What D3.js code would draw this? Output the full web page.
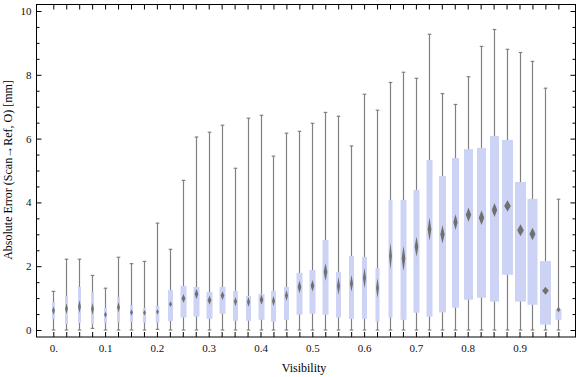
<!DOCTYPE html>
<html>
<head>
<meta charset="utf-8">
<script src="https://cdnjs.cloudflare.com/ajax/libs/d3/7.8.5/d3.min.js"></script>
<style>
  body { margin: 0; background: #fff; }
  text { font-family: "Liberation Serif", "Times New Roman", serif; }
</style>
</head>
<body>
<div id="graph-container"></div>
<script>
const w = 576;
const h = 377;

//Visibility bins, one box per bin
const visibility = [
  0, 0.025, 0.05, 0.075, 0.1, 0.125, 0.15, 0.175, 0.2, 0.225,
  0.25, 0.275, 0.3, 0.325, 0.35, 0.375, 0.4, 0.425, 0.45, 0.475,
  0.5, 0.525, 0.55, 0.575, 0.6, 0.625, 0.65, 0.675, 0.7, 0.725,
  0.75, 0.775, 0.8, 0.825, 0.85, 0.875, 0.9, 0.925, 0.95, 0.975
];

//Box statistics of the absolute error [mm] per bin
const whiskerMin = [
  0, 0, 0, 0.05, 0, 0, 0, 0, 0.02, 0,
  0, 0, 0, 0, 0, 0, 0, 0, 0, 0,
  0, 0, 0, 0, 0, 0, 0, 0, 0, 0,
  0, 0, 0, 0, 0, 0, 0, 0, 0, 0
];
const quartile1 = [
  0.34, 0.19, 0.22, 0.18, 0.21, 0.25, 0.25, 0.23, 0.23, 0.28,
  0.39, 0.42, 0.35, 0.51, 0.29, 0.29, 0.32, 0.26, 0.32, 0.48,
  0.51, 0.48, 0.39, 0.35, 0.35, 0.26, 0.39, 0.32, 0.54, 0.42,
  0.55, 0.7, 0.95, 1.01, 0.89, 1.73, 0.89, 0.79, 0.17, 0.32
];
const median = [
  0.61, 0.67, 0.73, 0.66, 0.48, 0.71, 0.55, 0.54, 0.57, 0.81,
  0.99, 1.13, 0.93, 1.08, 0.89, 0.88, 0.95, 0.91, 1.08, 1.35,
  1.39, 1.82, 1.38, 1.46, 1.63, 1.32, 2.32, 2.24, 2.61, 3.16,
  3.0, 3.38, 3.61, 3.52, 3.76, 3.89, 3.13, 3.01, 1.23, 0.64
];
const quartile3 = [
  0.88, 1.07, 1.35, 1.18, 0.69, 1.03, 0.78, 0.69, 0.75, 1.25,
  1.38, 1.35, 1.19, 1.35, 1.22, 1.07, 1.13, 1.22, 1.35, 1.79,
  1.88, 2.82, 1.82, 2.32, 2.29, 1.94, 4.08, 4.08, 4.39, 5.33,
  4.83, 5.39, 5.67, 5.71, 6.08, 5.96, 4.64, 4.11, 2.16, 0.66
];
const whiskerMax = [
  1.21, 2.22, 2.22, 1.71, 1.31, 2.28, 2.08, 2.15, 3.35, 2.53,
  4.69, 6.05, 6.2, 6.42, 5.07, 6.64, 6.73, 5.45, 6.17, 6.23,
  6.48, 6.82, 6.7, 5.77, 7.39, 6.89, 7.76, 8.08, 7.89, 9.27,
  7.41, 7.07, 7.94, 8.89, 9.42, 8.8, 8.7, 8.42, 7.58, 4.1
];
//Half-height of the median confidence notch [mm]
const medianNotch = [
  0.13, 0.168, 0.199, 0.183, 0.089, 0.157, 0.099, 0.089, 0.083, 0.089,
  0.136, 0.157, 0.141, 0.136, 0.146, 0.152, 0.162, 0.157, 0.167, 0.199,
  0.18, 0.282, 0.277, 0.261, 0.324, 0.313, 0.418, 0.392, 0.313, 0.366,
  0.287, 0.245, 0.219, 0.225, 0.219, 0.178, 0.188, 0.199, 0.125, 0.089
];
//Number of samples per bin (sets box width)
const sampleCount = [
  42, 68, 80, 74, 72, 61, 71, 120, 150, 280,
  400, 400, 400, 400, 278, 278, 400, 278, 278, 400,
  400, 400, 278, 278, 278, 178, 178, 400, 400, 400,
  544, 544, 900, 900, 900, 1344, 1344, 1111, 1344, 400
];

const xLabels = { 0: "0.", 0.1: "0.1", 0.2: "0.2", 0.3: "0.3", 0.4: "0.4", 0.5: "0.5", 0.6: "0.6", 0.7: "0.7", 0.8: "0.8", 0.9: "0.9" };
const yMajor = [0, 2, 4, 6, 8, 10];
const yMinor = [0.5, 1, 1.5, 2.5, 3, 3.5, 4.5, 5, 5.5, 6.5, 7, 7.5, 8.5, 9, 9.5];

const data = visibility.map((v, i) => ({
  v,
  lo: whiskerMin[i],
  q1: quartile1[i],
  med: median[i],
  q3: quartile3[i],
  hi: whiskerMax[i],
  notch: medianNotch[i],
  n: sampleCount[i]
}));

const frame = { left: 36.5, right: 575.5, top: 4.5, bottom: 337 };

const xScale = d3.scaleLinear().domain([0, 1]).range([53.3, 571.3]);
const yScale = d3.scaleLinear().domain([0, 10]).range([330, 11]);
const widthScale = d3.scaleSqrt().domain([0, 1344]).range([0, 11]);
const boxWidth = (d) => Math.max(3, widthScale(d.n));

const svg = d3.select("#graph-container").append("svg").attr("width", w).attr("height", h);

//Whiskers
const boxes = svg.append("g").selectAll("g").data(data).enter().append("g")
  .attr("transform", (d) => `translate(${Math.round(xScale(d.v)) + 0.5},0)`);

boxes.append("line")
  .attr("y1", (d) => yScale(d.lo))
  .attr("y2", (d) => yScale(d.hi))
  .attr("stroke", "#808080")
  .attr("stroke-width", 1.2);

boxes.selectAll(".cap")
  .data((d) => [d.lo, d.hi])
  .enter()
  .append("line")
  .attr("class", "cap")
  .attr("x1", -1.8)
  .attr("x2", 1.8)
  .attr("y1", (v) => yScale(v))
  .attr("y2", (v) => yScale(v))
  .attr("stroke", "#808080")
  .attr("stroke-width", 1.2);

//Interquartile boxes
boxes.append("rect")
  .attr("x", (d) => -boxWidth(d) / 2)
  .attr("width", boxWidth)
  .attr("y", (d) => yScale(d.q3))
  .attr("height", (d) => yScale(d.q1) - yScale(d.q3))
  .attr("fill", "#ccd3f5");

//Median notch diamonds
const defs = svg.append("defs");
defs.append("filter").attr("id", "soft")
  .append("feGaussianBlur").attr("stdDeviation", 0.35);

boxes.append("path")
  .attr("d", (d) => {
    const top = yScale(d.med + d.notch);
    const bot = yScale(d.med - d.notch);
    const mid = yScale(d.med);
    const half = Math.max(1.4, boxWidth(d) * 0.3);
    return `M0,${top}L${half},${mid}L0,${bot}L${-half},${mid}Z`;
  })
  .attr("fill", "#6f6f6f")
  .attr("filter", "url(#soft)");

//Frame and axes
svg.append("rect")
  .attr("x", frame.left)
  .attr("y", frame.top)
  .attr("width", frame.right - frame.left)
  .attr("height", frame.bottom - frame.top)
  .attr("fill", "none")
  .attr("stroke", "#000")
  .attr("stroke-width", 1);

svg.append("g")
  .attr("transform", `translate(0, ${frame.bottom})`)
  .call(d3.axisBottom(xScale).tickValues(visibility).tickSizeInner(-5).tickSizeOuter(0).tickPadding(7)
    .tickFormat((v) => xLabels[v] || ""));

svg.append("g")
  .attr("transform", `translate(0, ${frame.top})`)
  .call(d3.axisTop(xScale).tickValues(visibility).tickSizeInner(-5).tickSizeOuter(0).tickFormat(""));

svg.append("g")
  .attr("transform", `translate(${frame.left}, 0)`)
  .call(d3.axisLeft(yScale).tickValues(yMajor).tickSizeInner(-5).tickSizeOuter(0).tickPadding(5).tickFormat(d3.format("d")));

svg.append("g")
  .attr("transform", `translate(${frame.left}, 0)`)
  .call(d3.axisLeft(yScale).tickValues(yMinor).tickSizeInner(-3).tickSizeOuter(0).tickFormat(""));

svg.append("g")
  .attr("transform", `translate(${frame.right}, 0)`)
  .call(d3.axisRight(yScale).tickValues(yMajor).tickSizeInner(-5).tickSizeOuter(0).tickFormat(""));

svg.append("g")
  .attr("transform", `translate(${frame.right}, 0)`)
  .call(d3.axisRight(yScale).tickValues(yMinor).tickSizeInner(-3).tickSizeOuter(0).tickFormat(""));

svg.selectAll(".domain").remove();
svg.selectAll(".tick line").attr("stroke", "#000");
svg.selectAll(".tick text")
  .attr("font-family", "Liberation Serif, serif")
  .attr("font-size", 11)
  .attr("fill", "#111");

//Axis titles
svg.append("text")
  .attr("x", 304)
  .attr("y", 372)
  .attr("text-anchor", "middle")
  .attr("font-size", 12)
  .text("Visibility");

svg.append("text")
  .attr("transform", "translate(12, 170) rotate(-90)")
  .attr("text-anchor", "middle")
  .attr("font-size", 12)
  .text("Absolute Error (Scan\u2192Ref, O) [mm]");
</script>
</body>
</html>
